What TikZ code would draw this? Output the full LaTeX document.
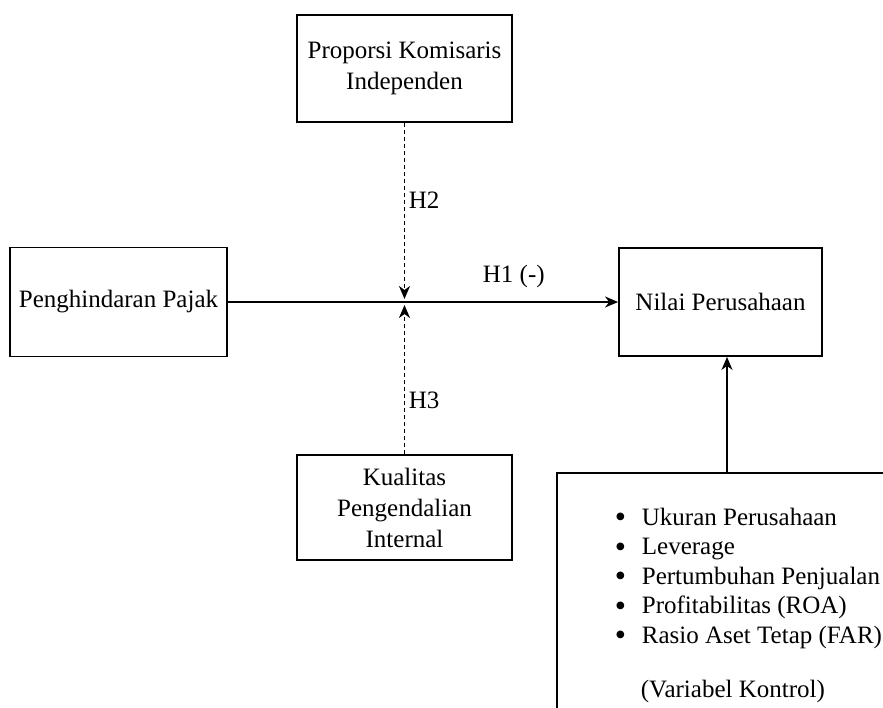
\documentclass[tikz,border=0pt]{standalone}
\usepackage{fontspec}
\setmainfont{Liberation Serif}
\usetikzlibrary{arrows.meta}

\newcommand{\titik}{\makebox[27pt][l]{\raisebox{-2.5pt}{\fontsize{32}{32}\selectfont\textbullet}}}

\begin{document}
\begin{tikzpicture}[x=1pt, y=-1pt, line width=1.8pt,
    >={Stealth[length=13pt, width=11pt, inset=4pt]},
    font=\fontsize{25}{31}\selectfont,
    varbox/.style={rectangle, draw, align=center, inner sep=0pt},
    hyp/.style={anchor=base west, inner sep=0pt}]
    \useasboundingbox (0,0) rectangle (883,707);
    \clip (0,0) rectangle (883,707);
    \node (komisaris) [varbox, minimum width=215pt, minimum height=107pt] at (404.5,68.5) {Proporsi Komisaris\\Independen};
    \node (pajak) [varbox, minimum width=217pt, minimum height=109pt] at (118.5,302) {Penghindaran Pajak};
    \node (nilai) [varbox, minimum width=203pt, minimum height=108pt] at (720.5,302) {Nilai Perusahaan};
    \node (kualitas) [varbox, minimum width=215pt, minimum height=105pt] at (404.5,507.5) {Kualitas\\Pengendalian\\Internal};
    \node (kontrol) [varbox, anchor=north west, minimum width=360pt, minimum height=260pt] at (556,472) {};
    \node (daftar) [anchor=base west, align=left, inner sep=0pt, font=\fontsize{25}{29.5}\selectfont] at (614,643)
        {\titik Ukuran Perusahaan\\
         \titik Leverage\\
         \titik Pertumbuhan Penjualan\\
         \titik Profitabilitas (ROA)\\
         \titik Rasio Aset Tetap (FAR)};
    \node (keterangan) [anchor=base west, inner sep=0pt] at (640,697) {(Variabel Kontrol)};
    \coordinate (moderasi) at (komisaris.south |- pajak.east);
    \coordinate (kontroltop) at (727,472);

    \draw[->] (pajak.east) -- (nilai.west);
    \draw[->, dashed, dash pattern=on 4pt off 3pt, shorten >=3pt] (komisaris.south) -- (moderasi);
    \draw[->, dashed, dash pattern=on 4pt off 3pt, shorten >=3pt] (kualitas.north) -- (moderasi);
    \draw[->] (kontroltop) -- (kontroltop |- nilai.south);

    \node (h1) [hyp] at (482,282) {H1 (-)};
    \node (h2) [hyp] at (408,208) {H2};
    \node (h3) [hyp] at (408,408) {H3};
\end{tikzpicture}
\end{document}
